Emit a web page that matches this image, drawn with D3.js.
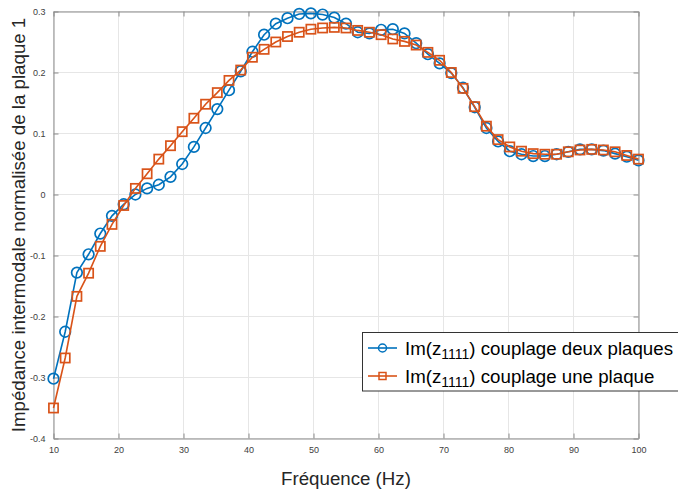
<!DOCTYPE html>
<html><head><meta charset="utf-8">
<script src="https://cdn.jsdelivr.net/npm/d3@7"></script>
<style>
html,body{margin:0;padding:0;background:#fff;}
svg{display:block;font-family:"Liberation Sans",Arial,Helvetica,sans-serif;}
</style></head>
<body><svg id="c" width="678" height="491"></svg>
<script>
const freqStart = 10, freqStep = 1.8;
const seriesNames = ["couplage deux plaques", "couplage une plaque"];
const blueValues = [-0.302,-0.225,-0.128,-0.098,-0.064,-0.035,-0.016,0.000,0.010,0.016,
  0.029,0.050,0.078,0.109,0.140,0.171,0.202,0.234,0.262,0.280,
  0.289,0.296,0.297,0.295,0.290,0.280,0.266,0.264,0.270,0.271,
  0.264,0.248,0.230,0.215,0.199,0.175,0.143,0.109,0.087,0.071,
  0.066,0.063,0.063,0.066,0.070,0.074,0.074,0.072,0.067,0.062,0.056];
const orangeValues = [-0.350,-0.268,-0.167,-0.129,-0.085,-0.049,-0.018,0.010,0.034,0.058,
  0.080,0.103,0.125,0.148,0.167,0.187,0.204,0.225,0.238,0.250,
  0.259,0.266,0.271,0.273,0.274,0.273,0.269,0.266,0.262,0.255,
  0.251,0.245,0.233,0.220,0.200,0.174,0.144,0.112,0.090,0.078,
  0.071,0.067,0.066,0.066,0.070,0.073,0.074,0.073,0.070,0.064,0.058];
const freqs = blueValues.map((_, i) => +(freqStart + i * freqStep).toFixed(1));
const xTicks = [10,20,30,40,50,60,70,80,90,100];
const yTicks = [-0.4,-0.3,-0.2,-0.1,0,0.1,0.2,0.3];

const svg = d3.select("#c");
const L = 53.5, R = 638.5, T = 11.5, B = 438.5;
const x = d3.scaleLinear().domain([10,100]).range([L,R]);
const y = d3.scaleLinear().domain([-0.4,0.3]).range([B,T]);

// grid
const g = svg.append("g");
g.selectAll(".gx").data(xTicks).enter().append("line")
  .attr("x1",d=>x(d)).attr("x2",d=>x(d)).attr("y1",T).attr("y2",B)
  .attr("stroke","#e6e6e6").attr("stroke-width",1);
g.selectAll(".gy").data(yTicks).enter().append("line")
  .attr("x1",L).attr("x2",R).attr("y1",d=>y(d)).attr("y2",d=>y(d))
  .attr("stroke","#e6e6e6").attr("stroke-width",1);

// axes
const fmtY = d => d === 0 ? "0" : d3.format(".1f")(d).replace("−","-");
const ax = svg.append("g").attr("transform",`translate(0,${B})`)
  .call(d3.axisBottom(x).tickValues(xTicks).tickSizeInner(-5).tickSizeOuter(0).tickPadding(8));
const ay = svg.append("g").attr("transform",`translate(${L},0)`)
  .call(d3.axisLeft(y).tickValues(yTicks).tickFormat(fmtY).tickSizeInner(-5).tickSizeOuter(0).tickPadding(8));
const axT = svg.append("g").attr("transform",`translate(0,${T})`)
  .call(d3.axisTop(x).tickValues(xTicks).tickSizeInner(-5).tickSizeOuter(0).tickFormat(""));
const ayR = svg.append("g").attr("transform",`translate(${R},0)`)
  .call(d3.axisRight(y).tickValues(yTicks).tickSizeInner(-5).tickSizeOuter(0).tickFormat(""));
[ax,ay,axT,ayR].forEach(a=>{
  a.select(".domain").attr("stroke","#8c8c8c");
  a.selectAll(".tick line").attr("stroke","#8c8c8c");
  a.selectAll("text").attr("fill","#404040").style("font-size","9px")
   .style("font-family","'Liberation Sans',Arial,sans-serif");
});
ax.selectAll("text").attr("dy","0.71em");

// series
const series = [
  {vals: blueValues, color:"#0072BD", marker:"circle"},
  {vals: orangeValues, color:"#D95319", marker:"square"}
];
const line = d3.line().x((d,i)=>x(freqs[i])).y(d=>y(d));
series.forEach(s=>{
  svg.append("path").datum(s.vals).attr("d",line)
    .attr("fill","none").attr("stroke",s.color).attr("stroke-width",1.6);
  const mg = svg.append("g");
  if (s.marker==="circle") {
    mg.selectAll("circle").data(s.vals).enter().append("circle")
      .attr("cx",(d,i)=>x(freqs[i])).attr("cy",d=>y(d)).attr("r",5.3)
      .attr("fill","none").attr("stroke",s.color).attr("stroke-width",1.7);
  } else {
    mg.selectAll("rect").data(s.vals).enter().append("rect")
      .attr("x",(d,i)=>x(freqs[i])-4.6).attr("y",d=>y(d)-4.6)
      .attr("width",9.2).attr("height",9.2)
      .attr("fill","none").attr("stroke",s.color).attr("stroke-width",1.7);
  }
});

// axis labels
svg.append("text").attr("x",(L+R)/2).attr("y",485).attr("text-anchor","middle")
  .attr("fill","#262626").style("font-size","18.7px").text("Fréquence (Hz)");
svg.append("text").attr("transform",`translate(25,${(T+B)/2}) rotate(-90)`)
  .attr("text-anchor","middle").attr("fill","#262626").style("font-size","18.7px")
  .text("Impédance intermodale normalisée de la plaque 1");

// legend
const lg = svg.append("g");
lg.append("rect").attr("x",362.5).attr("y",332.5).attr("width",330).attr("height",58.5)
  .attr("fill","#fff").attr("stroke","#333").attr("stroke-width",1);
series.forEach((s,k)=>{
  const cy = 348 + k*28;
  lg.append("line").attr("x1",368).attr("x2",397).attr("y1",cy).attr("y2",cy)
    .attr("stroke",s.color).attr("stroke-width",1.6);
  if (s.marker==="circle") {
    lg.append("circle").attr("cx",382.5).attr("cy",cy).attr("r",4)
      .attr("fill","none").attr("stroke",s.color).attr("stroke-width",1.5);
  } else {
    lg.append("rect").attr("x",379).attr("y",cy-3.5).attr("width",7).attr("height",7)
      .attr("fill","none").attr("stroke",s.color).attr("stroke-width",1.5);
  }
  const t = lg.append("text").attr("x",405).attr("y",cy+6.5).attr("fill","#000")
    .style("font-size","18.7px");
  t.append("tspan").text("Im(z");
  t.append("tspan").attr("dy",4.5).style("font-size","14px").text("1111");
  t.append("tspan").attr("dy",-4.5).text(") " + seriesNames[k]);
});
</script></body></html>
